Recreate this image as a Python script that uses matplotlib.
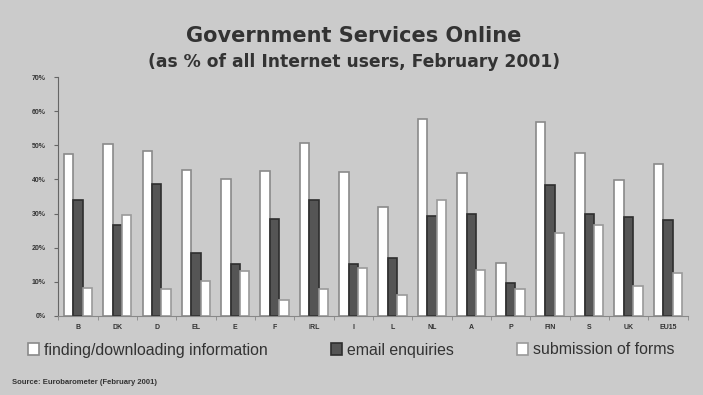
import matplotlib.pyplot as plt
import numpy as np

plt.rcParams['font.family'] = ['Liberation Sans', 'DejaVu Sans']

countries = ['B', 'DK', 'D', 'EL', 'E', 'F', 'IRL', 'I', 'L', 'NL', 'A', 'P', 'FIN', 'S', 'UK', 'EU15']
finding = [47.5, 50.5, 48.3, 42.9, 40.1, 42.6, 50.7, 42.2, 32.0, 57.8, 42.0, 15.6, 56.9, 47.6, 39.8, 44.5]
email = [33.9, 26.6, 38.6, 18.5, 15.2, 28.4, 33.9, 15.2, 16.9, 29.3, 29.8, 9.7, 38.4, 29.8, 29.1, 28.2]
forms = [8.2, 29.7, 7.8, 10.2, 13.3, 4.7, 7.8, 14.2, 6.1, 33.9, 13.4, 7.9, 24.3, 26.6, 8.7, 12.6]
series_names = ['finding/downloading information', 'email enquiries', 'submission of forms']

bg = '#cbcbcb'
fig = plt.figure(figsize=(7.03, 3.95), dpi=100, facecolor=bg)
ax = fig.add_axes([0.083, 0.2, 0.895, 0.605], facecolor=bg)

x = np.arange(len(countries))
w = 0.24
ax.bar(x - w, finding, width=w, color='white', edgecolor='#8a8a8a', linewidth=1.2, label=series_names[0])
ax.bar(x, email, width=w, color='#555555', edgecolor='#2e2e2e', linewidth=1.2, label=series_names[1])
ax.bar(x + w, forms, width=w, color='white', edgecolor='#9a9a9a', linewidth=1.2, label=series_names[2])

ax.set_xlim(-0.5, len(countries) - 0.5)
ax.set_ylim(0, 70)
ax.set_yticks(range(0, 71, 10))
ax.set_yticklabels([f'{v}%' for v in range(0, 71, 10)], fontsize=5, fontweight='bold', color='#333333')
ax.set_xticks(x)
ax.set_xticklabels(countries, fontsize=5, fontweight='bold', color='#333333')
ax.tick_params(axis='x', length=0, pad=6)
ax.set_xticks(np.arange(-0.5, len(countries), 1), minor=True)
ax.tick_params(axis='x', which='minor', length=3, color='#888888')
ax.tick_params(axis='y', length=3, color='#666666', pad=6)

for s in ['top', 'right']:
    ax.spines[s].set_visible(False)
ax.spines['left'].set_color('#666666')
ax.spines['bottom'].set_color('#888888')

fig.text(0.503, 1 - 35.5 / 395, 'Government Services Online', ha='center', va='center',
         fontsize=15, fontweight='bold', color='#333333', family='DejaVu Sans')
fig.text(0.503, 1 - 62 / 395, '(as % of all Internet users, February 2001)', ha='center', va='center',
         fontsize=12.3, fontweight='bold', color='#333333', family='DejaVu Sans')

fig.legend(loc='center', bbox_to_anchor=(0.5, 1 - 350 / 395), ncol=3, frameon=False,
           fontsize=11.4, handlelength=0.7, handleheight=0.7, columnspacing=4.0,
           handletextpad=0.3, labelcolor='#333333')

fig.text(0.017, 1 - 382 / 395, 'Source: Eurobarometer (February 2001)', ha='left', va='center',
         fontsize=5.5, fontweight='bold', color='#333333')

plt.savefig('out.png', dpi=100, facecolor=bg)
